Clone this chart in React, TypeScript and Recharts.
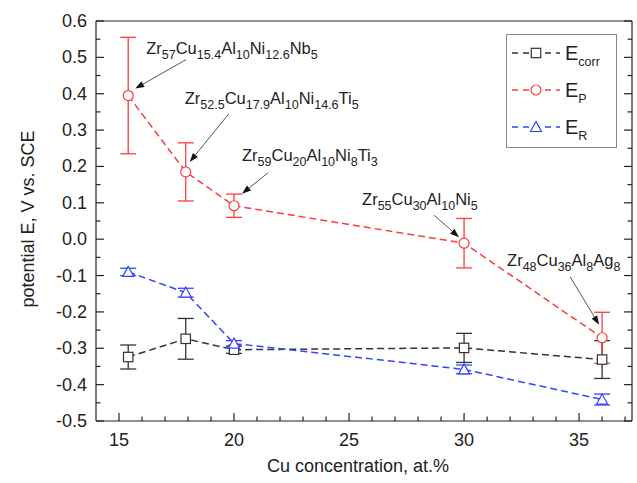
import React from 'react';
import { LineChart, Line, XAxis, YAxis, ErrorBar, ReferenceDot } from 'recharts';

// Cu content of the alloys, at.%
const cuContent = [15.4, 17.9, 20, 30, 36];

// potentials, V vs. SCE, with error bar half-widths
const eCorr = [-0.324, -0.274, -0.304, -0.299, -0.331];
const eCorrErr = [0.033, 0.056, 0.01, 0.04, 0.052];
const eP = [0.395, 0.185, 0.092, -0.011, -0.271];
const ePErr = [0.16, 0.08, 0.032, 0.068, 0.07];
const eR = [-0.09, -0.147, -0.287, -0.358, -0.441];
const eRErr = [0.01, 0.012, 0.008, 0.012, 0.015];

const xTicks = [15, 16, 17, 18, 19, 20, 21, 22, 23, 24, 25, 26, 27, 28, 29, 30, 31, 32, 33, 34, 35, 36, 37];
const yTicks = [
  -0.5, -0.45, -0.4, -0.35, -0.3, -0.25, -0.2, -0.15, -0.1, -0.05, 0,
  0.05, 0.1, 0.15, 0.2, 0.25, 0.3, 0.35, 0.4, 0.45, 0.5, 0.55, 0.6,
];

// alloy compositions, [element, subscript]
const alloyLabels: [string, string][][] = [
  [['Zr', '57'], ['Cu', '15.4'], ['Al', '10'], ['Ni', '12.6'], ['Nb', '5']],
  [['Zr', '52.5'], ['Cu', '17.9'], ['Al', '10'], ['Ni', '14.6'], ['Ti', '5']],
  [['Zr', '59'], ['Cu', '20'], ['Al', '10'], ['Ni', '8'], ['Ti', '3']],
  [['Zr', '55'], ['Cu', '30'], ['Al', '10'], ['Ni', '5']],
  [['Zr', '48'], ['Cu', '36'], ['Al', '8'], ['Ag', '8']],
];

const data = cuContent.map((x, i) => ({
  x,
  corr: eCorr[i],
  corrErr: eCorrErr[i],
  p: eP[i],
  pErr: ePErr[i],
  r: eR[i],
  rErr: eRErr[i],
}));

const FONT = '"Liberation Sans", Arial, Helvetica, sans-serif';
const AXIS = '#222';
const BLACK = '#333';
const RED = '#ff3c3c';
const BLUE = '#3344ff';

// pixel offsets of label text / arrow tail / arrow tip from each E_P point
const annotLayout = [
  { tx: 18, ty: -42, ax: 58, ay: -36, bx: 7, by: -7 },
  { tx: -1, ty: -68, ax: 43, ay: -58, bx: 4, by: -10 },
  { tx: 8, ty: -45, ax: 34, ay: -33, bx: 8, by: -12 },
  { tx: -102, ty: -38, ax: -30, ay: -28, bx: -5, by: -6 },
  { tx: -95, ty: -72, ax: -32, ay: -61, bx: -3, by: -13 },
];

type Shape = 'square' | 'circle' | 'triangle';

const Marker = ({ cx, cy, shape, color }: { cx: number; cy: number; shape: Shape; color: string }) => {
  if (cx == null || cy == null) return null;
  if (shape === 'square') {
    return <rect x={cx - 4.7} y={cy - 4.7} width={9.4} height={9.4} fill="#fff" stroke={color} strokeWidth={1.2} />;
  }
  if (shape === 'circle') {
    return <circle cx={cx} cy={cy} r={5} fill="#fff" stroke={color} strokeWidth={1.2} />;
  }
  return (
    <polygon
      points={`${cx},${cy - 5.5} ${cx - 5.5},${cy + 4.5} ${cx + 5.5},${cy + 4.5}`}
      fill="#fff"
      stroke={color}
      strokeWidth={1.2}
    />
  );
};

const Formula = ({ x, y, parts, size = 16.5, sub = 12.5 }: { x: number; y: number; parts: [string, string][]; size?: number; sub?: number }) => (
  <text x={x} y={y} fontSize={size} fill="#222" fontFamily={FONT}>
    {parts.map(([el, s], i) => (
      <React.Fragment key={i}>
        <tspan dy={i === 0 ? 0 : -5}>{el}</tspan>
        <tspan fontSize={sub} dy={5}>{s}</tspan>
      </React.Fragment>
    ))}
  </text>
);

const Annotation = ({ cx, cy, idx }: { cx: number; cy: number; idx: number }) => {
  const l = annotLayout[idx];
  const x1 = cx + l.ax, y1 = cy + l.ay, x2 = cx + l.bx, y2 = cy + l.by;
  const ang = Math.atan2(y2 - y1, x2 - x1);
  const hl = 9, hw = 3.2;
  const bx = x2 - hl * Math.cos(ang), by = y2 - hl * Math.sin(ang);
  const px = -Math.sin(ang) * hw, py = Math.cos(ang) * hw;
  return (
    <g>
      <line x1={x1} y1={y1} x2={bx} y2={by} stroke="#555" strokeWidth={1} />
      <polygon points={`${x2},${y2} ${bx + px},${by + py} ${bx - px},${by - py}`} fill="#111" />
      <Formula x={cx + l.tx} y={cy + l.ty} parts={alloyLabels[idx]} />
    </g>
  );
};

const XTick = (props: any) => {
  const { x, y, payload, top } = props;
  const v = payload.value;
  const major = v % 5 === 0;
  const len = major ? 8 : 4.5;
  return (
    <g>
      <line x1={x} x2={x} y1={y} y2={top ? y + len : y - len} stroke={AXIS} strokeWidth={1.2} />
      {!top && major && (
        <text x={x} y={y + 25} textAnchor="middle" fontSize={18} fill="#222" fontFamily={FONT}>
          {v}
        </text>
      )}
    </g>
  );
};

const YTick = (props: any) => {
  const { x, y, payload, right } = props;
  const v = payload.value;
  const major = Math.abs(Math.round(v * 100)) % 10 === 0;
  const len = major ? 8 : 4.5;
  return (
    <g>
      <line x1={x} x2={right ? x - len : x + len} y1={y} y2={y} stroke={AXIS} strokeWidth={1.2} />
      {!right && major && (
        <text x={x - 9} y={y + 6} textAnchor="end" fontSize={18} fill="#222" fontFamily={FONT}>
          {(Math.round(v * 10) / 10).toFixed(1)}
        </text>
      )}
    </g>
  );
};

const legendItems: { name: string; sub: string; color: string; shape: Shape }[] = [
  { name: 'E', sub: 'corr', color: BLACK, shape: 'square' },
  { name: 'E', sub: 'P', color: RED, shape: 'circle' },
  { name: 'E', sub: 'R', color: BLUE, shape: 'triangle' },
];

const LegendBox = () => (
  <svg width={112} height={115} style={{ position: 'absolute', left: 506, top: 34, fontFamily: FONT }}>
    <rect x={0.5} y={0.5} width={110} height={113} fill="#fff" stroke="#888" strokeWidth={1} />
    {legendItems.map((it, i) => {
      const cy = 19 + i * 37;
      return (
        <g key={i}>
          <line x1={6} x2={54} y1={cy} y2={cy} stroke={it.color} strokeWidth={1.5} strokeDasharray="6 5" />
          <Marker cx={30} cy={cy} shape={it.shape} color={it.color} />
          <text x={59} y={cy + 7} fontSize={20} fill="#222">
            {it.name}
            <tspan fontSize={12.5} dy={6}>{it.sub}</tspan>
          </text>
        </g>
      );
    })}
  </svg>
);

const App = () => (
  <div style={{ position: 'absolute', left: 0, top: 0, width: 637, height: 483, background: '#fff' }}>
    <LineChart
      width={637}
      height={483}
      data={data}
      margin={{ top: 20, right: 4, bottom: 61, left: 95 }}
      style={{ fontFamily: FONT }}
    >
      <XAxis
        type="number"
        dataKey="x"
        domain={[14, 37.3]}
        ticks={xTicks}
        interval={0}
        height={1}
        tickSize={0}
        tickMargin={0}
        tickLine={false}
        axisLine={{ stroke: AXIS, strokeWidth: 1.2 }}
        tick={<XTick />}
        allowDataOverflow
        label={(p: any) => {
          const vb = p.viewBox;
          return (
            <text x={vb.x + vb.width / 2 - 6} y={vb.y + 51} textAnchor="middle" fontSize={18} fill="#222" fontFamily={FONT}>
              Cu concentration, at.%
            </text>
          );
        }}
      />
      <XAxis
        xAxisId="top"
        orientation="top"
        type="number"
        domain={[14, 37.3]}
        ticks={xTicks}
        interval={0}
        height={1}
        tickSize={0}
        tickMargin={0}
        tickLine={false}
        axisLine={{ stroke: AXIS, strokeWidth: 1.2 }}
        tick={<XTick top />}
        allowDataOverflow
      />
      <YAxis
        type="number"
        domain={[-0.5, 0.6]}
        ticks={yTicks}
        interval={0}
        width={1}
        tickSize={0}
        tickMargin={0}
        tickLine={false}
        axisLine={{ stroke: AXIS, strokeWidth: 1.2 }}
        tick={<YTick />}
        allowDataOverflow
        label={(p: any) => {
          const vb = p.viewBox;
          const cx = vb.x - 67;
          const cy = vb.y + vb.height / 2 - 2;
          return (
            <text x={cx} y={cy} transform={`rotate(-90 ${cx} ${cy})`} textAnchor="middle" dominantBaseline="central" fontSize={18} fill="#222" fontFamily={FONT}>
              potential E, V vs. SCE
            </text>
          );
        }}
      />
      <YAxis
        yAxisId="right"
        orientation="right"
        type="number"
        domain={[-0.5, 0.6]}
        ticks={yTicks}
        interval={0}
        width={1}
        tickSize={0}
        tickMargin={0}
        tickLine={false}
        axisLine={{ stroke: AXIS, strokeWidth: 1.2 }}
        tick={<YTick right />}
        allowDataOverflow
      />
      <Line
        type="linear"
        dataKey="corr"
        stroke={BLACK}
        strokeWidth={1.5}
        strokeDasharray="7 4"
        isAnimationActive={false}
        dot={(p: any) => <Marker key={`c${p.index}`} cx={p.cx} cy={p.cy} shape="square" color={BLACK} />}
      >
        <ErrorBar dataKey="corrErr" direction="y" width={8} stroke={BLACK} strokeWidth={1.3} isAnimationActive={false} />
      </Line>
      <Line
        type="linear"
        dataKey="r"
        stroke={BLUE}
        strokeWidth={1.5}
        strokeDasharray="7 4"
        isAnimationActive={false}
        dot={(p: any) => <Marker key={`r${p.index}`} cx={p.cx} cy={p.cy} shape="triangle" color={BLUE} />}
      >
        <ErrorBar dataKey="rErr" direction="y" width={8} stroke={BLUE} strokeWidth={1.3} isAnimationActive={false} />
      </Line>
      <Line
        type="linear"
        dataKey="p"
        stroke={RED}
        strokeWidth={1.5}
        strokeDasharray="7 4"
        isAnimationActive={false}
        dot={(p: any) => <Marker key={`p${p.index}`} cx={p.cx} cy={p.cy} shape="circle" color={RED} />}
      >
        <ErrorBar dataKey="pErr" direction="y" width={8} stroke={RED} strokeWidth={1.3} isAnimationActive={false} />
      </Line>
      {cuContent.map((x, i) => (
        <ReferenceDot
          key={i}
          x={x}
          y={eP[i]}
          r={0}
          ifOverflow="visible"
          shape={(p: any) => <Annotation cx={p.cx} cy={p.cy} idx={i} />}
        />
      ))}
    </LineChart>
    <LegendBox />
  </div>
);

export default App;
